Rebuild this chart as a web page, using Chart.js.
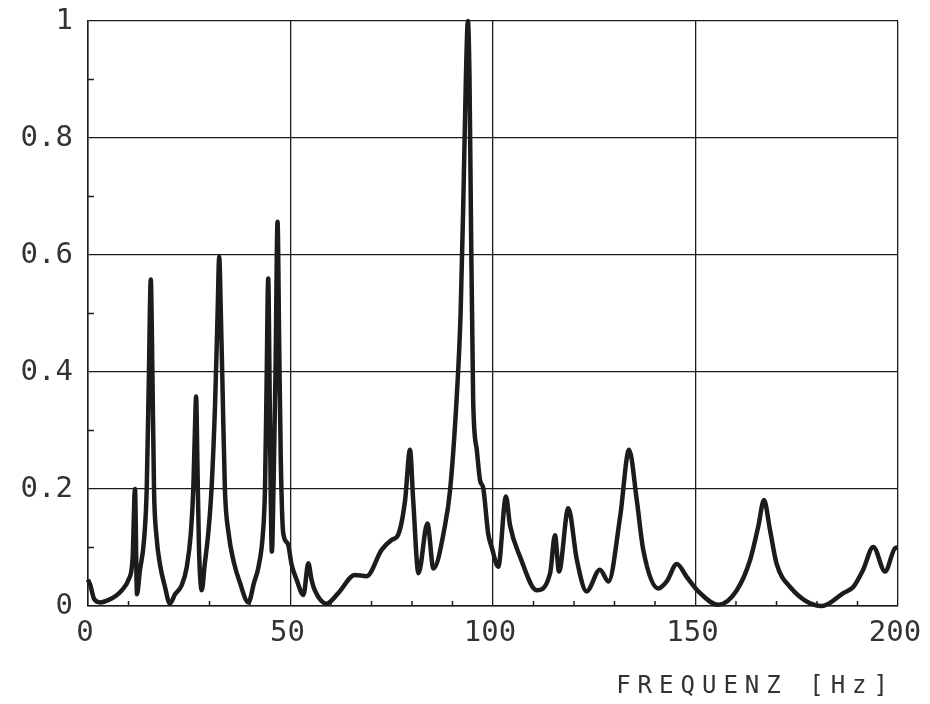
<!DOCTYPE html>
<html>
<head>
<meta charset="utf-8">
<script src="https://cdn.jsdelivr.net/npm/chart.js@4.4.1/dist/chart.umd.min.js"></script>
<style>
  html, body { margin: 0; padding: 0; background: #fff; }
</style>
</head>
<body>
<canvas id="myChart" width="930" height="704"></canvas>
<script>
// frequency [Hz] and normalised amplitude
const freq = [0, 0.6, 1.5, 3, 5, 7, 8.5, 10, 11, 11.6, 12.1, 12.8, 13.8, 14.5, 15.0, 15.5, 15.9, 16.3, 16.9, 17.8,
  19.0, 20.2, 21.5, 23.1, 24.4, 25.4, 26.0, 26.4, 26.7, 27.0, 27.4, 28.1, 28.8, 29.7, 30.5, 31.4, 32.0, 32.4, 32.8, 33.2,
  33.8, 34.7, 36.0, 37.5, 39.6, 41.0, 42.1, 43.2, 43.7, 44.1, 44.5, 44.8, 45.1, 45.4, 45.8, 46.3, 46.8, 47.2, 47.6, 48.2,
  49.3, 50.3, 51.5, 53.2, 54.4, 55.2, 56.0, 58.9, 61.8, 65.9, 68.8, 72.5, 75.0, 76.6, 78.3, 79.5, 80.3, 81.6, 83.8, 85.3,
  88.1, 89.4, 91.0, 92.0, 92.7, 93.3, 93.8, 94.2, 94.5, 95.1, 96.0, 96.8, 97.6, 98.8, 99.7, 101.3, 103.2, 104.2, 106.7, 110.8,
  114.1, 115.3, 116.3, 118.6, 120.7, 123.1, 126.4, 128.5, 131.4, 133.6, 135.5, 137.1, 140.8, 142.9, 145.4, 147.8, 150.7, 155.6, 160.2, 163.5,
  165.5, 166.9, 168.4, 170.0, 173.3, 181.2, 186.5, 189.0, 191.4, 193.9, 196.8, 199.3, 200];
const amp = [0.045, 0.035, 0.012, 0.006, 0.01, 0.018, 0.028, 0.045, 0.08, 0.2, 0.02, 0.06, 0.11, 0.2, 0.38, 0.558, 0.4, 0.2, 0.12, 0.07,
  0.033, 0.004, 0.02, 0.035, 0.067, 0.125, 0.2, 0.3, 0.358, 0.25, 0.1, 0.027, 0.07, 0.125, 0.2, 0.35, 0.5, 0.597, 0.5, 0.38,
  0.2, 0.125, 0.075, 0.04, 0.006, 0.04, 0.067, 0.125, 0.2, 0.38, 0.56, 0.4, 0.2, 0.093, 0.2, 0.4, 0.657, 0.45, 0.25, 0.125,
  0.107, 0.07, 0.045, 0.019, 0.073, 0.045, 0.027, 0.004, 0.022, 0.053, 0.051, 0.096, 0.113, 0.122, 0.181, 0.267, 0.18, 0.056, 0.141, 0.064,
  0.136, 0.198, 0.352, 0.5, 0.7, 0.9, 1.0, 0.9, 0.7, 0.352, 0.267, 0.215, 0.201, 0.124, 0.1, 0.067, 0.187, 0.138, 0.084, 0.027,
  0.056, 0.121, 0.059, 0.167, 0.079, 0.025, 0.062, 0.042, 0.153, 0.267, 0.181, 0.096, 0.03, 0.042, 0.072, 0.05, 0.025, 0.002, 0.027, 0.079,
  0.136, 0.181, 0.13, 0.073, 0.033, 0.0, 0.022, 0.033, 0.062, 0.101, 0.059, 0.099, 0.1];

const xMinor = [10, 20, 30, 40, 60, 70, 80, 90, 110, 120, 130, 140, 160, 170, 180, 190];
const yMinor = [0.1, 0.3, 0.5, 0.7, 0.9];
const xTitle = 'FREQUENZ [Hz]';

const ink = '#1c1c1c';
const labelFont = { family: '"DejaVu Sans Mono", monospace', size: 29 };

// small inward tick marks between the grid lines
const minorTicks = {
  id: 'minorTicks',
  beforeDatasetsDraw(chart) {
    const { ctx, chartArea, scales } = chart;
    ctx.save();
    ctx.strokeStyle = ink;
    ctx.lineWidth = 1.5;
    ctx.beginPath();
    yMinor.forEach(v => {
      const py = scales.y.getPixelForValue(v);
      ctx.moveTo(chartArea.left, py);
      ctx.lineTo(chartArea.left + 6, py);
    });
    xMinor.forEach(v => {
      const px = scales.x.getPixelForValue(v);
      ctx.moveTo(px, chartArea.bottom);
      ctx.lineTo(px, chartArea.bottom - 5);
    });
    ctx.stroke();
    ctx.restore();
  }
};

// axis title, wide letter spacing like the plotter lettering
const axisTitle = {
  id: 'axisTitle',
  afterDraw(chart) {
    const { ctx, chartArea } = chart;
    ctx.save();
    ctx.font = '24px "DejaVu Sans Mono", monospace';
    ctx.letterSpacing = '7px';
    ctx.fillStyle = '#333';
    ctx.textAlign = 'right';
    ctx.textBaseline = 'alphabetic';
    ctx.fillText(xTitle, chartArea.right - 3, chartArea.bottom + 87);
    ctx.restore();
  }
};

const ctx = document.getElementById('myChart').getContext('2d');
const chart = new Chart(ctx, {
  type: 'line',
  data: {
    datasets: [{
      data: freq.map((f, i) => ({ x: f, y: amp[i] })),
      borderColor: ink,
      borderWidth: 4.5,
      pointRadius: 0,
      fill: false,
      cubicInterpolationMode: 'monotone',
      clip: false
    }]
  },
  options: {
    responsive: false,
    animation: false,
    devicePixelRatio: 1,
    layout: { padding: { top: 21, right: 32, left: 0, bottom: 0 } },
    plugins: { legend: { display: false }, tooltip: { enabled: false } },
    scales: {
      x: {
        type: 'linear',
        min: 0,
        max: 200,
        afterFit: s => { s.height = 98; s.paddingLeft = 0; s.paddingRight = 0; },
        ticks: { stepSize: 50, font: labelFont, color: '#333', padding: 10, maxRotation: 0, labelOffset: -3 },
        grid: { color: ink, lineWidth: 1.3, drawTicks: false },
        border: { color: ink, width: 1.5 }
      },
      y: {
        min: 0,
        max: 1,
        afterFit: s => { s.width = 88; s.paddingTop = 0; s.paddingBottom = 0; },
        ticks: {
          stepSize: 0.2,
          font: labelFont,
          color: '#333',
          padding: 15,
          callback: v => String(Number(v.toFixed(1)))
        },
        grid: { color: ink, lineWidth: 1.3, drawTicks: false },
        border: { color: ink, width: 1.5 }
      }
    }
  },
  plugins: [minorTicks, axisTitle]
});
</script>
</body>
</html>
